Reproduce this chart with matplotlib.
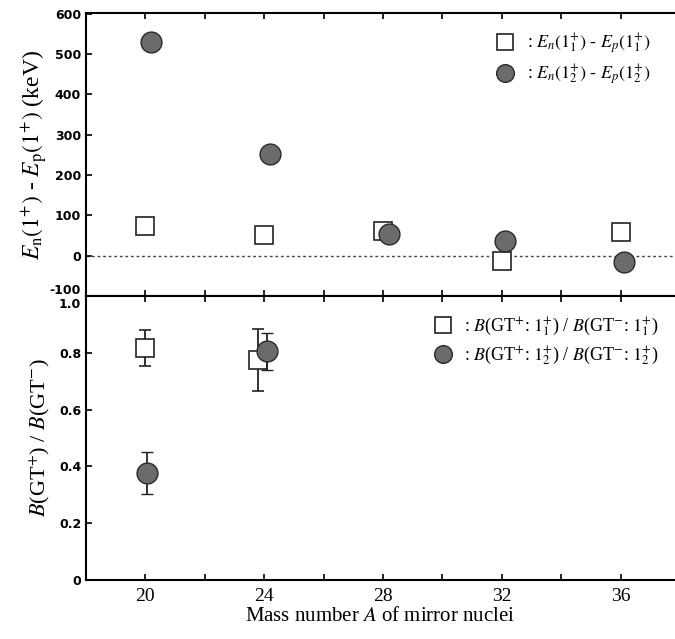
import matplotlib
matplotlib.use("Agg")
import matplotlib.pyplot as plt
from matplotlib.ticker import MultipleLocator
from matplotlib.transforms import ScaledTranslation

plt.rcParams["mathtext.fontset"] = "stix"

# ---- data ----
A_sq_top = [20, 24, 28, 32, 36]
dE_1 = [74, 52, 62, -12, 59]
A_ci_top = [20.2, 24.2, 28.2, 32.1, 36.1]
dE_2 = [531, 252, 54, 37, -15]

A_sq_bot = [20, 23.8]
R_1 = [0.817, 0.775]
R_1_err = [0.065, 0.11]
A_ci_bot = [20.05, 24.1]
R_2 = [0.377, 0.806]
R_2_err = [0.075, 0.065]

xticks = [20, 24, 28, 32, 36]
yticks_top = [-100, 0, 100, 200, 300, 400, 500, 600]
yticks_bot = [0, 0.2, 0.4, 0.6, 0.8, 1.0]

fig = plt.figure(figsize=(6.75, 6.39), dpi=100)
left = 86 / 675
width = 1 - left
ax1 = fig.add_axes([left, 1 - 296 / 639, width, (296 - 13) / 639])
ax2 = fig.add_axes([left, 1 - 580 / 639, width, (580 - 296) / 639])

serif = "Liberation Serif"
face = "#6b6b6b"
edge = "#2a2a2a"

for ax in (ax1, ax2):
    ax.set_xlim(18, 37.83)
    ax.xaxis.set_major_locator(MultipleLocator(4))
    ax.xaxis.set_minor_locator(MultipleLocator(2))
    ax.tick_params(which="both", direction="in", length=4, width=1.2, top=True, right=False)
    ax.spines["right"].set_visible(False)
    for s in ("left", "top", "bottom"):
        ax.spines[s].set_linewidth(1.5)

# upper panel
ax1.set_ylim(-100, 602)
ax1.axhline(0, color="#444444", lw=1.0, ls=(0, (2, 2)), zorder=1)
h1, = ax1.plot(A_sq_top, dE_1, ls="none", marker="s", ms=13, mfc="white",
               mec="#222222", mew=1.2, zorder=3)
h2, = ax1.plot(A_ci_top, dE_2, ls="none", marker="o", ms=15, mfc=face,
               mec=edge, mew=1.0, zorder=4)
ax1.tick_params(axis="x", labelbottom=False)
ax1.set_yticks(yticks_top)
ax1.set_yticklabels([str(v) for v in yticks_top], fontweight="bold", fontsize=9)
lab_m100 = ax1.get_yticklabels()[0]
lab_m100.set_transform(lab_m100.get_transform() + ScaledTranslation(0, 5 / 72, fig.dpi_scale_trans))
ax1.set_ylabel(r"$E_{\rm n}(1^{+})$ - $E_{\rm p}(1^{+})$ (keV)", fontsize=17,
               family=serif, labelpad=0)
ax1.legend([h1, h2],
           [r": $E_{n}(1_1^{+})$ - $E_{p}(1_1^{+})$",
            r": $E_{n}(1_2^{+})$ - $E_{p}(1_2^{+})$"],
           loc="upper right", bbox_to_anchor=(0.985, 0.99), frameon=False,
           prop={"family": serif, "size": 13}, handletextpad=0.2,
           markerscale=0.85, labelspacing=0.35)

# lower panel
ax2.set_ylim(0, 1.0)
ax2.set_yticks(yticks_bot)
ax2.set_yticklabels(["0", "0.2", "0.4", "0.6", "0.8", "1.0"], fontweight="bold", fontsize=9)
lab10 = ax2.get_yticklabels()[-1]
lab10.set_transform(lab10.get_transform() + ScaledTranslation(0, -5 / 72, fig.dpi_scale_trans))
e1 = ax2.errorbar(A_sq_bot, R_1, yerr=R_1_err, ls="none", marker="s", ms=13,
                  mfc="white", mec="#222222", mew=1.2, ecolor="#222222",
                  elinewidth=1.3, capsize=4, zorder=3)
e2 = ax2.errorbar(A_ci_bot, R_2, yerr=R_2_err, ls="none", marker="o", ms=15,
                  mfc=face, mec=edge, mew=1.0, ecolor="#222222",
                  elinewidth=1.3, capsize=4, zorder=4)
ax2.set_xticks(xticks)
ax2.set_xticklabels([str(v) for v in xticks], family=serif, fontsize=14)
ax2.tick_params(axis="x", pad=6)
ax2.set_ylabel(r"$B$(GT$^{+}$) / $B$(GT$^{-}$)", fontsize=16, family=serif, labelpad=5)
ax2.set_xlabel(r"Mass number $A$ of mirror nuclei", fontsize=15, family=serif, labelpad=1)
ax2.legend([e1.lines[0], e2.lines[0]],
           [r": $B$(GT$^{+}$: $1_1^{+}$) / $B$(GT$^{-}$: $1_1^{+}$)",
            r": $B$(GT$^{+}$: $1_2^{+}$) / $B$(GT$^{-}$: $1_2^{+}$)"],
           loc="upper right", bbox_to_anchor=(1.0, 0.99), frameon=False,
           prop={"family": serif, "size": 13}, handletextpad=0.2,
           markerscale=0.85, labelspacing=0.35)

fig.savefig("out.png", dpi=100)
